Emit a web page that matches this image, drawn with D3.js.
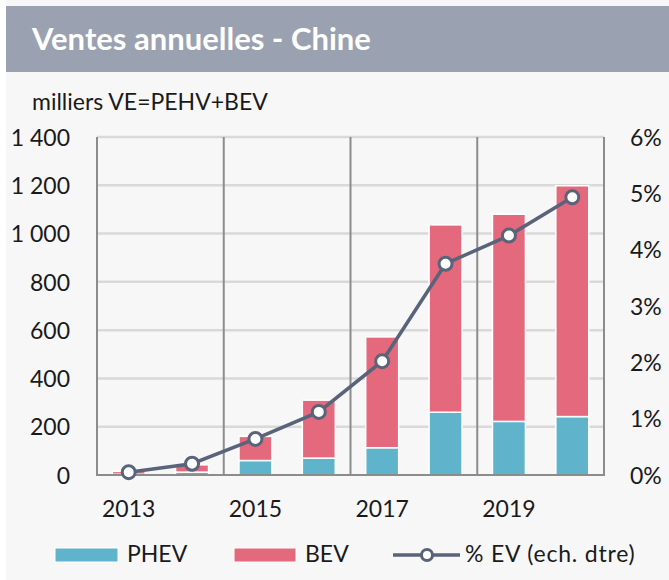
<!DOCTYPE html>
<html>
<head>
<meta charset="utf-8">
<script src="https://cdn.jsdelivr.net/npm/d3@7"></script>
<style>
  body { margin: 0; background: #fff; }
  svg { display: block; font-family: Lato, "Open Sans", sans-serif; }
</style>
</head>
<body>
<svg id="chart" width="669" height="580"></svg>
<script>
// annual EV sales, China (thousands) and EV share (right axis)
const years = ["2013", "2014", "2015", "2016", "2017", "2018", "2019", "2020"];
const phev = [3, 12, 60, 70, 113, 260, 222, 242];
const bev = [12, 30, 100, 240, 459, 776, 858, 956];
const evShare = [0.05, 0.2, 0.64, 1.12, 2.02, 3.75, 4.25, 4.93];
const leftTicks = [0, 200, 400, 600, 800, 1000, 1200, 1400];
const rightTicks = [0, 1, 2, 3, 4, 5, 6];
const yearLabels = ["2013", "2015", "2017", "2019"];

const svg = d3.select("#chart");
const plot = { left: 97, right: 604, top: 137, bottom: 475 };
const col = { phev: "#5fb4cb", bev: "#e5697c", line: "#59637a", grid: "#d9d9d9", axis: "#8c8c8c", text: "#1a1a1a" };
const fs = 23;

// background + header band
svg.append("rect").attr("x", 6).attr("y", 0).attr("width", 663).attr("height", 580).attr("fill", "#f7f7f7");
svg.append("rect").attr("x", 6).attr("y", 6).attr("width", 663).attr("height", 66).attr("fill", "#9aa1b1");
svg.append("text").attr("x", 32).attr("y", 50)
    .attr("fill", "#fff").attr("font-weight", "bold").attr("font-size", 31)
    .text("Ventes annuelles - Chine");
svg.append("text").attr("x", 32).attr("y", 110)
    .attr("fill", col.text).attr("font-size", fs)
    .text("milliers VE=PEHV+BEV");

const x = d3.scaleBand().domain(years).range([plot.left, plot.right]).paddingInner(0.48).paddingOuter(0.24);
const y = d3.scaleLinear().domain([0, 1400]).range([plot.bottom, plot.top]);
const y2 = d3.scaleLinear().domain([0, 6]).range([plot.bottom, plot.top]);

// horizontal gridlines
svg.append("g").selectAll("line").data(leftTicks.slice(1)).join("line")
    .attr("x1", plot.left).attr("x2", plot.right)
    .attr("y1", d => y(d)).attr("y2", d => y(d))
    .attr("stroke", col.grid).attr("stroke-width", 2.5);

// vertical separators every two years
const step = x.step();
svg.append("g").selectAll("line").data([0, 2, 4, 6, 8]).join("line")
    .attr("x1", i => plot.left + i * step).attr("x2", i => plot.left + i * step)
    .attr("y1", plot.top).attr("y2", plot.bottom)
    .attr("stroke", col.axis).attr("stroke-width", 2);

// stacked bars
const rows = years.map((yr, i) => ({ year: yr, phev: phev[i], bev: bev[i] }));
const stack = d3.stack().keys(["phev", "bev"])(rows);
svg.append("g").selectAll("g").data(stack).join("g")
    .attr("fill", d => col[d.key])
    .selectAll("rect").data(d => d).join("rect")
    .attr("x", d => x(d.data.year))
    .attr("width", x.bandwidth())
    .attr("y", d => y(d[1]))
    .attr("height", d => y(d[0]) - y(d[1]))
    .attr("stroke", "#fff").attr("stroke-width", 1.5);

// bottom axis line
svg.append("line").attr("x1", plot.left - 1).attr("x2", plot.right + 1)
    .attr("y1", plot.bottom).attr("y2", plot.bottom)
    .attr("stroke", col.axis).attr("stroke-width", 2);

// left axis labels
const fmt = d => d3.format(",")(d).replace(",", " ");
svg.append("g").selectAll("text").data(leftTicks).join("text")
    .attr("x", 70).attr("y", d => y(d)).attr("dy", "0.38em")
    .attr("text-anchor", "end").attr("font-size", fs).attr("fill", col.text)
    .text(fmt);

// right axis labels
svg.append("g").selectAll("text").data(rightTicks).join("text")
    .attr("x", 630).attr("y", d => y2(d)).attr("dy", "0.38em")
    .attr("font-size", fs).attr("fill", col.text)
    .text(d => d + "%");

// year labels
svg.append("g").selectAll("text").data(yearLabels).join("text")
    .attr("x", d => x(d) + x.bandwidth() / 2).attr("y", 517)
    .attr("text-anchor", "middle").attr("font-size", fs).attr("fill", col.text)
    .text(d => d);

// EV share line
const line = d3.line().x((d, i) => x(years[i]) + x.bandwidth() / 2).y(d => y2(d));
svg.append("path").datum(evShare).attr("d", line)
    .attr("fill", "none").attr("stroke", col.line).attr("stroke-width", 3.5);
svg.append("g").selectAll("circle").data(evShare).join("circle")
    .attr("cx", (d, i) => x(years[i]) + x.bandwidth() / 2)
    .attr("cy", d => y2(d)).attr("r", 6.5)
    .attr("fill", "#fff").attr("stroke", col.line).attr("stroke-width", 3);

// legend
const lg = svg.append("g").attr("font-size", fs).attr("fill", col.text);
lg.append("rect").attr("x", 55).attr("y", 548).attr("width", 63).attr("height", 14).attr("fill", col.phev).attr("stroke", "#fff");
lg.append("text").attr("x", 127).attr("y", 562).text("PHEV");
lg.append("rect").attr("x", 234).attr("y", 548).attr("width", 62).attr("height", 14).attr("fill", col.bev).attr("stroke", "#fff");
lg.append("text").attr("x", 305).attr("y", 562).text("BEV");
lg.append("line").attr("x1", 393).attr("x2", 460).attr("y1", 555).attr("y2", 555)
    .attr("stroke", col.line).attr("stroke-width", 3.5);
lg.append("circle").attr("cx", 427).attr("cy", 555).attr("r", 5.5)
    .attr("fill", "#fff").attr("stroke", col.line).attr("stroke-width", 3);
lg.append("text").attr("x", 465).attr("y", 562).attr("letter-spacing", 0.8).text("% EV (ech. dtre)");
</script>
</body>
</html>
